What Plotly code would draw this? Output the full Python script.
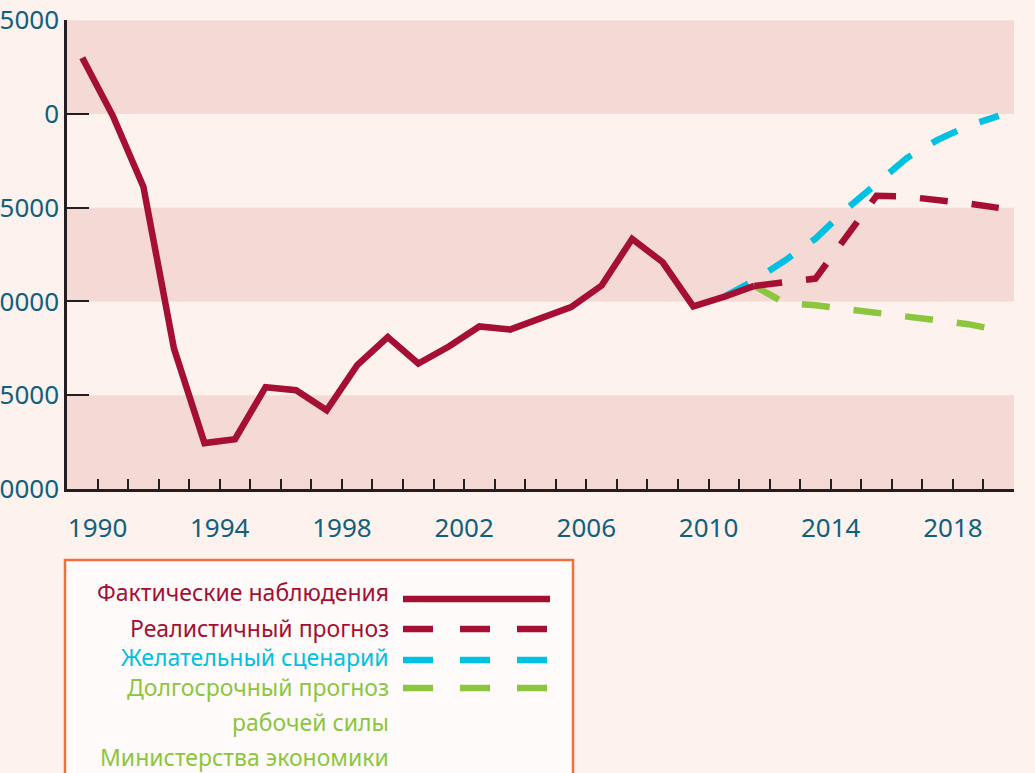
import plotly.graph_objects as go

# ---------------- data ----------------
years_actual = list(range(1990, 2013))
actual = [63000, 59900, 56120, 47500, 42450, 42660, 45430, 45270, 44200, 46600,
          48100, 46690, 47600, 48670, 48500, 49080, 49700, 50850, 53340, 52090,
          49740, 50240, 50830]

years_real = list(range(2012, 2021))
realistic = [50830, 51040, 51220, 53430, 55640, 55590, 55430, 55220, 54990]

years_desired = list(range(2011, 2021))
desired = [50240, 51120, 52180, 53350, 54910, 56310, 57660, 58620, 59370, 59900]

years_long = list(range(2012, 2021))
longterm = [50830, 49920, 49800, 49600, 49440, 49260, 49050, 48790, 48460]

y_tickvals = [40000, 45000, 50000, 55000, 60000, 65000]
y_ticktext = ["0000", "5000", "0000", "5000", "0", "5000"]

x_label_years = [1990, 1994, 1998, 2002, 2006, 2010, 2014, 2018]

legend_labels = ["Фактические наблюдения", "Реалистичный прогноз",
                 "Желательный сценарий", "Долгосрочный прогноз",
                 "рабочей силы", "Министерства экономики"]

# ---------------- style ----------------
RED = "#A50F34"
CYAN = "#00C1E2"
GREEN = "#8CC63F"
BG = "#FDF2EE"
BAND = "#F4D9D5"
AXIS = "#231F20"
TICKCOL = "#11607E"
DASH = "28px,24px"
LW = 6.5

W, H = 1035, 773
L, R, T, B = 67, 21, 20, 284
PW, PH = W - L - R, H - T - B


def px(x):
    return (x - L) / PW


def py(y):
    return (T + PH - y) / PH


fig = go.Figure()
fig.add_trace(go.Scatter(x=years_desired, y=desired, mode="lines",
                         line=dict(color=CYAN, width=LW, dash=DASH), showlegend=False))
fig.add_trace(go.Scatter(x=years_long, y=longterm, mode="lines",
                         line=dict(color=GREEN, width=LW, dash=DASH), showlegend=False))
fig.add_trace(go.Scatter(x=years_real, y=realistic, mode="lines",
                         line=dict(color=RED, width=LW, dash=DASH), showlegend=False))
fig.add_trace(go.Scatter(x=years_actual, y=actual, mode="lines",
                         line=dict(color=RED, width=LW), showlegend=False))

shapes = []
# alternating bands
for i in range(0, len(y_tickvals) - 1, 2):
    shapes.append(dict(type="rect", xref="paper", yref="y", x0=0, x1=1,
                       y0=y_tickvals[i], y1=y_tickvals[i + 1],
                       fillcolor=BAND, line=dict(width=0), layer="below"))

# legend box
shapes.append(dict(type="rect", xref="paper", yref="paper",
                   x0=px(65), x1=px(573), y0=py(560), y1=py(790),
                   fillcolor="#FFFBFA", line=dict(color="#F2703F", width=2.5),
                   layer="above"))

legend_styles = [(RED, "solid", 599), (RED, "30px,27px", 629),
                 (CYAN, "30px,27px", 660), (GREEN, "30px,27px", 688)]
for col, dash, yy in legend_styles:
    shapes.append(dict(type="line", xref="paper", yref="paper",
                       x0=px(403), x1=px(550), y0=py(yy), y1=py(yy),
                       line=dict(color=col, width=LW, dash=dash), layer="above"))

annotations = []
legend_text_pos = [(RED, 592), (RED, 628), (CYAN, 657), (GREEN, 687),
                   (GREEN, 722), (GREEN, 757)]
for text, (col, yy) in zip(legend_labels, legend_text_pos):
    annotations.append(dict(text=text, xref="paper", yref="paper",
                            x=px(391), y=py(yy), xanchor="right", yanchor="middle",
                            showarrow=False,
                            font=dict(family="Noto Sans", size=23, color=col)))

x_tickvals = [y + 0.5 for y in range(1989, 2021)]
x_ticktext = [str(int(v - 0.5)) if int(v - 0.5) in x_label_years else "" for v in x_tickvals]

fig.update_layout(
    width=W, height=H,
    margin=dict(l=L, r=R, t=T, b=B, autoexpand=False),
    paper_bgcolor=BG, plot_bgcolor=BG,
    shapes=shapes, annotations=annotations,
    showlegend=False,
    xaxis=dict(range=[1989.5, 2020.5], tickmode="array", tickvals=x_tickvals,
               ticktext=x_ticktext, ticks="inside", ticklen=10, tickwidth=2,
               tickcolor=AXIS, showline=True, linecolor=AXIS, linewidth=2.5,
               showgrid=False, zeroline=False, ticklabelstandoff=14,
               automargin=False,
               tickfont=dict(family="Noto Sans", size=26, color=TICKCOL)),
    yaxis=dict(range=[40000, 65010], tickmode="array", tickvals=y_tickvals,
               ticktext=y_ticktext, ticks="inside", ticklen=22, tickwidth=2,
               tickcolor=AXIS, showline=True, linecolor=AXIS, linewidth=2.5,
               showgrid=False, zeroline=False, ticklabelstandoff=0,
               automargin=False,
               tickfont=dict(family="Noto Sans", size=26, color=TICKCOL)),
)

fig.write_html(
    "out.html",
    config={"displayModeBar": False},
    post_script="document.body.style.margin='0';document.body.style.background='%s';" % BG,
)
